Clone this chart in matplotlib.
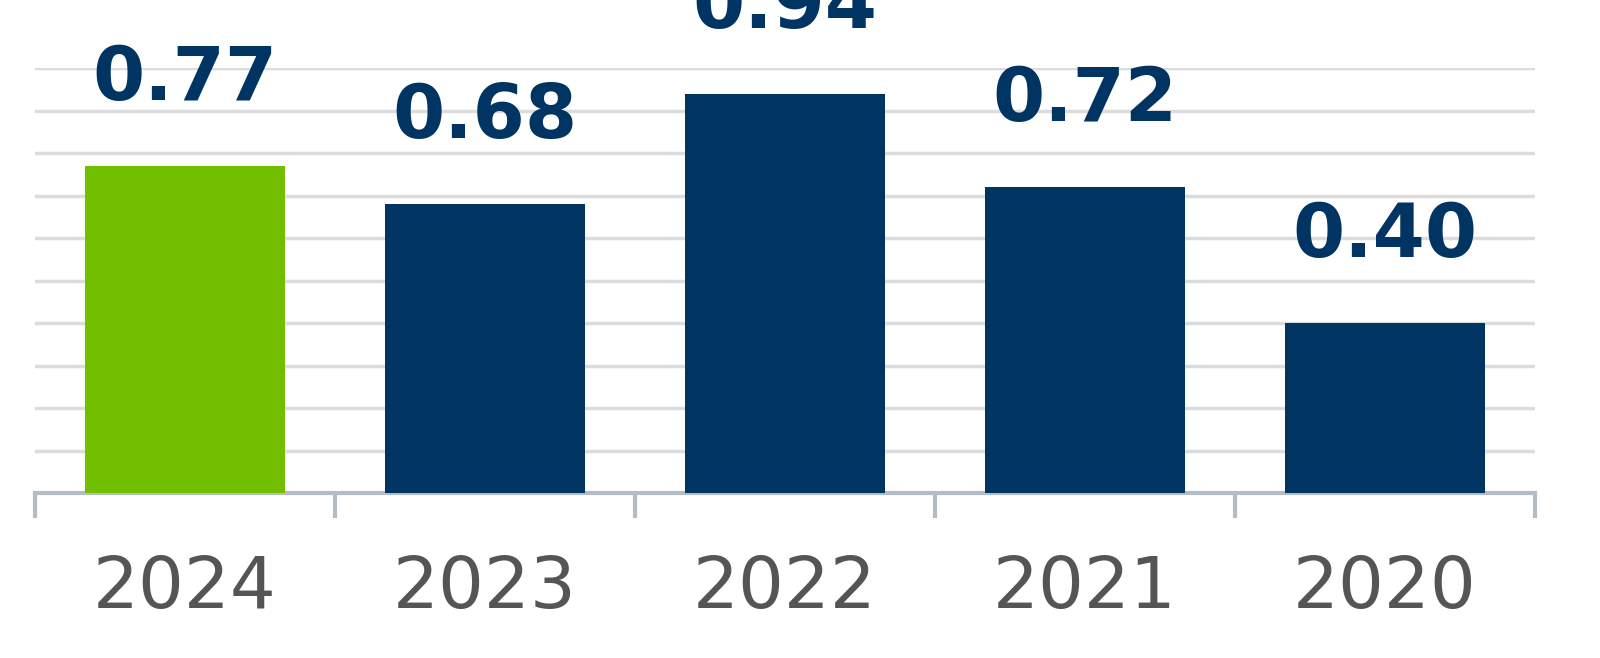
import matplotlib
matplotlib.use("Agg")
import matplotlib.pyplot as plt
import numpy as np

categories = ["2024", "2023", "2022", "2021", "2020"]
values = [0.77, 0.68, 0.94, 0.72, 0.40]
labels = ["0.77", "0.68", "0.94", "0.72", "0.40"]
colors = ["#72bf00", "#003462", "#003462", "#003462", "#003462"]

fig = plt.figure(figsize=(16, 6.58), dpi=100)
ax = fig.add_axes([35/1600, 165/658, 1500/1600, 425/658])
x = np.arange(len(categories))
ax.bar(x, values, width=0.667, color=colors, zorder=3)
ax.set_xlim(-0.5, len(categories) - 0.5)
ax.set_ylim(0, 1.0)
ax.set_yticks(np.arange(0.1, 1.01, 0.1))
ax.yaxis.grid(True, color="#dcdcdc", linewidth=2.5, zorder=0)
ax.tick_params(axis="y", length=0, labelleft=False)
for s in ["top", "right", "left"]:
    ax.spines[s].set_visible(False)
ax.spines["bottom"].set_color("#b4bcc4")
ax.spines["bottom"].set_linewidth(3)
ax.set_xticks(x)
ax.set_xticklabels(categories, fontsize=52, color="#555555", family="DejaVu Sans")
ax.tick_params(axis="x", length=0, pad=44)
ax.set_xticks(np.arange(-0.5, len(categories)), minor=True)
ax.tick_params(axis="x", which="minor", length=18, width=3, color="#b4bcc4")
for xi, v, t in zip(x, values, labels):
    ax.text(xi, v + 0.155, t, ha="center", va="baseline", fontsize=54,
            fontweight="bold", color="#003462", family="DejaVu Sans", clip_on=False)
fig.savefig("out.png", dpi=100)
